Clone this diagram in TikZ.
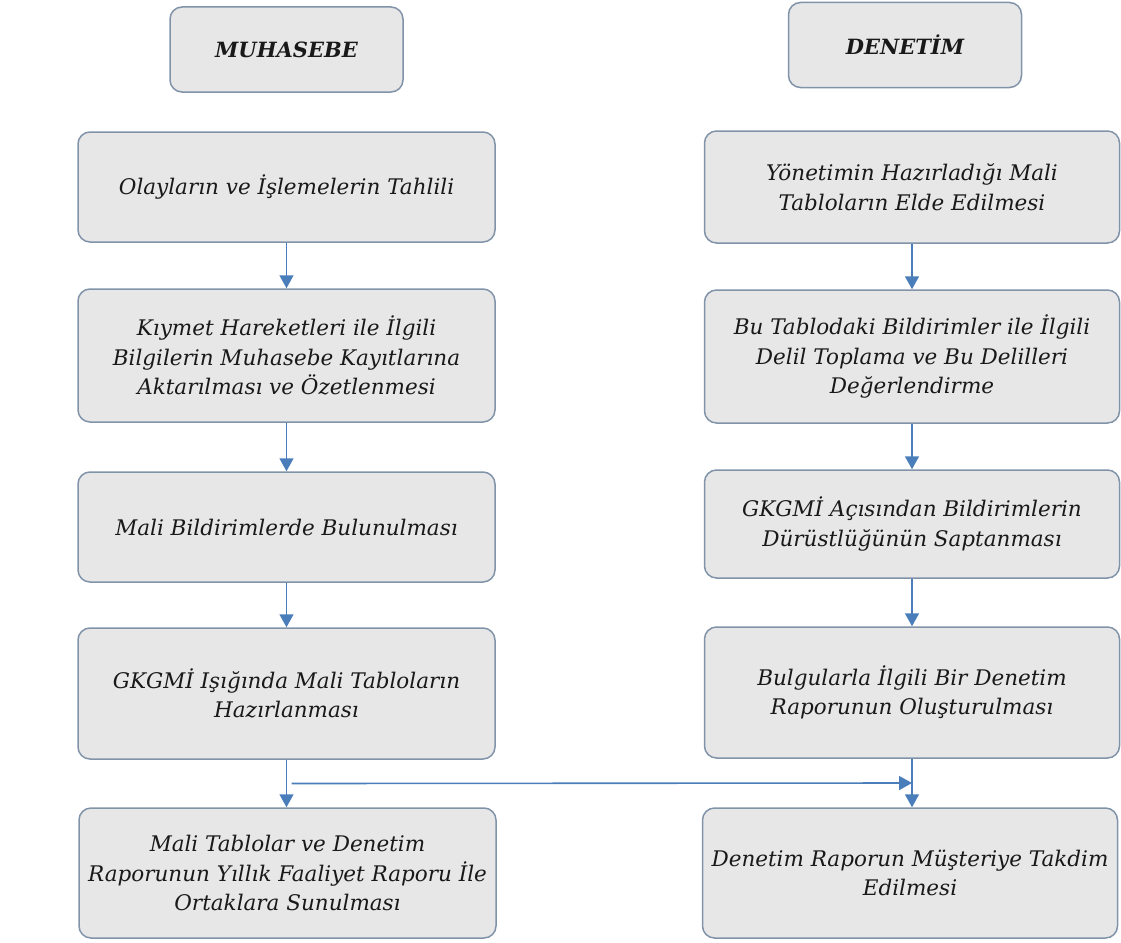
\documentclass[tikz,border=0pt]{standalone}
\usepackage{fontspec}
\setmainfont{DejaVu Serif}
\usetikzlibrary{arrows.meta}
\definecolor{boxfill}{HTML}{E7E7E8}
\definecolor{boxline}{HTML}{8193A8}
\definecolor{flow}{HTML}{4A7EBB}
\begin{document}
\begin{tikzpicture}[x=1pt,y=-1pt,
  card/.style={draw=boxline, line width=1.5pt, fill=boxfill, rounded corners=12pt,
    align=center, inner sep=0pt, text=black!90,
    font=\fontsize{21.5}{29.5}\selectfont\itshape},
  colcard/.style={card, minimum width=417pt},
  headcard/.style={card, minimum width=233pt, minimum height=85pt,
    font=\fontsize{21}{24}\selectfont\bfseries\itshape},
  flowarrow/.style={draw=flow, line width=1.6pt,
    -{Triangle[length=13pt,width=14pt]}, fill=flow}
]
\useasboundingbox (0,0) rectangle (1121,942);

% column headers
\node[headcard] (muh) at (286.5,49.5) {MUHASEBE};
\node[headcard] (den) at (905,45) {DENETİM};

% accounting column
\node[colcard, minimum height=110pt] (l1) at (286.5,187) {Olayların ve İşlemelerin Tahlili};
\node[colcard, minimum height=133pt] (l2) at (286.5,355.5) {Kıymet Hareketleri ile İlgili\\Bilgilerin Muhasebe Kayıtlarına\\Aktarılması ve Özetlenmesi};
\node[colcard, minimum height=110pt] (l3) at (286.5,527) {Mali Bildirimlerde Bulunulması};
\node[colcard, minimum height=131pt] (l4) at (286.5,693.5) {GKGMİ Işığında Mali Tabloların\\Hazırlanması};
\node[colcard, minimum height=130pt] (l5) at (287.5,873) {Mali Tablolar ve Denetim\\Raporunun Yıllık Faaliyet Raporu İle\\Ortaklara Sunulması};

% audit column
\node[colcard, minimum width=415pt, minimum height=112pt] (r1) at (912,187) {Yönetimin Hazırladığı Mali\\Tabloların Elde Edilmesi};
\node[colcard, minimum width=415pt, minimum height=133pt] (r2) at (912,356.5) {Bu Tablodaki Bildirimler ile İlgili\\Delil Toplama ve Bu Delilleri\\Değerlendirme};
\node[colcard, minimum width=415pt, minimum height=108pt] (r3) at (912,524) {GKGMİ Açısından Bildirimlerin\\Dürüstlüğünün Saptanması};
\node[colcard, minimum width=415pt, minimum height=131pt] (r4) at (912,692.5) {Bulgularla İlgili Bir Denetim\\Raporunun Oluşturulması};
\node[colcard, minimum width=415pt, minimum height=130pt] (r5) at (910,873) {Denetim Raporun Müşteriye Takdim\\Edilmesi};

% vertical flow
\draw[flowarrow] (l1) -- (l2);
\draw[flowarrow] (l2) -- (l3);
\draw[flowarrow] (l3) -- (l4);
\draw[flowarrow] (l4.south) -- (l4.south |- l5.north);
\draw[flowarrow] (r1) -- (r2);
\draw[flowarrow] (r2) -- (r3);
\draw[flowarrow] (r3) -- (r4);
\draw[flowarrow] (r4.south) -- (r4.south |- r5.north);

% cross link between the two columns
\path (l4.south) -- (l4.south |- l5.north) coordinate[pos=0.5] (jl);
\path (r4.south) -- (r4.south |- r5.north) coordinate[pos=0.5] (jr);
\draw[flowarrow] ([xshift=5pt]jl) -- (jr);
\end{tikzpicture}
\end{document}
